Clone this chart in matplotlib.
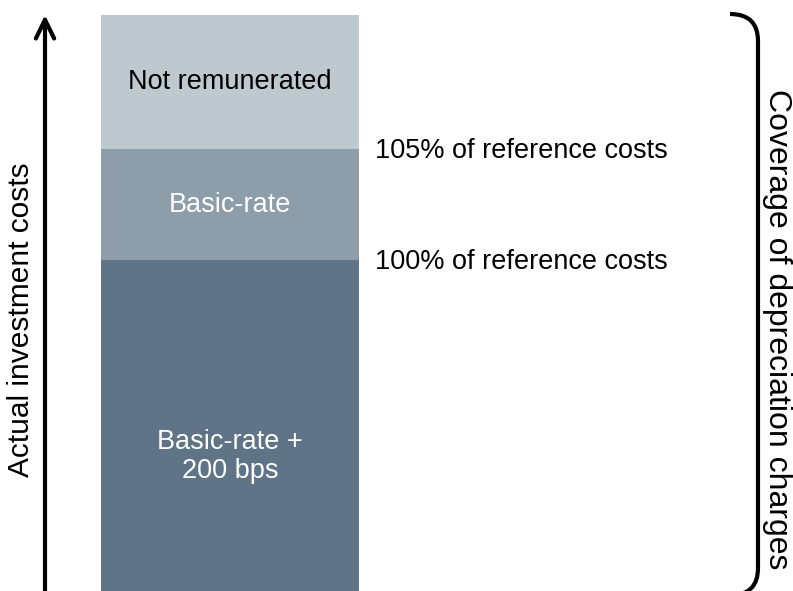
import matplotlib.pyplot as plt
from matplotlib.patches import FancyArrowPatch, PathPatch
from matplotlib.path import Path
import numpy as np

plt.rcParams["font.family"] = ["Liberation Sans", "DejaVu Sans"]

# stacked segments, bottom to top (heights in arbitrary units)
segment_labels = ["Basic-rate +\n200 bps", "Basic-rate", "Not remunerated"]
segment_heights = [331, 111, 134]
segment_colors = ["#5F7486", "#8D9DA9", "#BEC8CF"]
label_colors = ["white", "white", "black"]
threshold_labels = ["100% of reference costs", "105% of reference costs"]
y_axis_label = "Actual investment costs"
brace_label = "Coverage of depreciation charges"

W, H = 793, 591
fig = plt.figure(figsize=(W / 100, H / 100), dpi=100)
ax = fig.add_axes([0, 0, 1, 1])
ax.set_xlim(0, W)
ax.set_ylim(0, H)
ax.axis("off")

bar_x, bar_w = 230, 258
bottoms = np.concatenate([[0], np.cumsum(segment_heights)[:-1]])
ax.bar([bar_x] * 3, segment_heights, bottom=bottoms, width=bar_w,
       color=segment_colors, edgecolor="none")

fs = 19.5
for i, (lab, h, b) in enumerate(zip(segment_labels, segment_heights, bottoms)):
    yc = b + h / 2
    if i == 0:
        yc -= 31  # text sits low in the bottom block
    ax.text(bar_x, yc, lab, ha="center", va="center", fontsize=fs,
            color=label_colors[i], linespacing=1.15)

# threshold labels at the segment boundaries
tops = np.cumsum(segment_heights)
for lab, y in zip(threshold_labels, tops[:2]):
    ax.text(375, y - 2, lab, ha="left", va="center", fontsize=fs, color="black")

# vertical arrow on the left
arrow = FancyArrowPatch((45, -5), (45, H - 15),
                        arrowstyle="->,head_length=0.45,head_width=0.22",
                        mutation_scale=30, lw=3, color="black",
                        shrinkA=0, shrinkB=0)
ax.add_patch(arrow)
ax.text(21, 271, y_axis_label, rotation=90, ha="center", va="center",
        fontsize=21.5, color="black")

# right bracket
r = 27
xv = 758
verts = [(730, H - 14), (xv, H - 14), (xv, H - 14 - r),
         (xv, 23), (xv, -4), (xv - r, -4)]
codes = [Path.MOVETO, Path.CURVE3, Path.CURVE3,
         Path.LINETO, Path.CURVE3, Path.CURVE3]
ax.add_patch(PathPatch(Path(verts, codes), fill=False, lw=3, color="black",
                       capstyle="butt"))
ax.text(777, 262, brace_label, rotation=270, ha="center", va="center",
        fontsize=23, color="black")

fig.savefig("out.png", dpi=100)
